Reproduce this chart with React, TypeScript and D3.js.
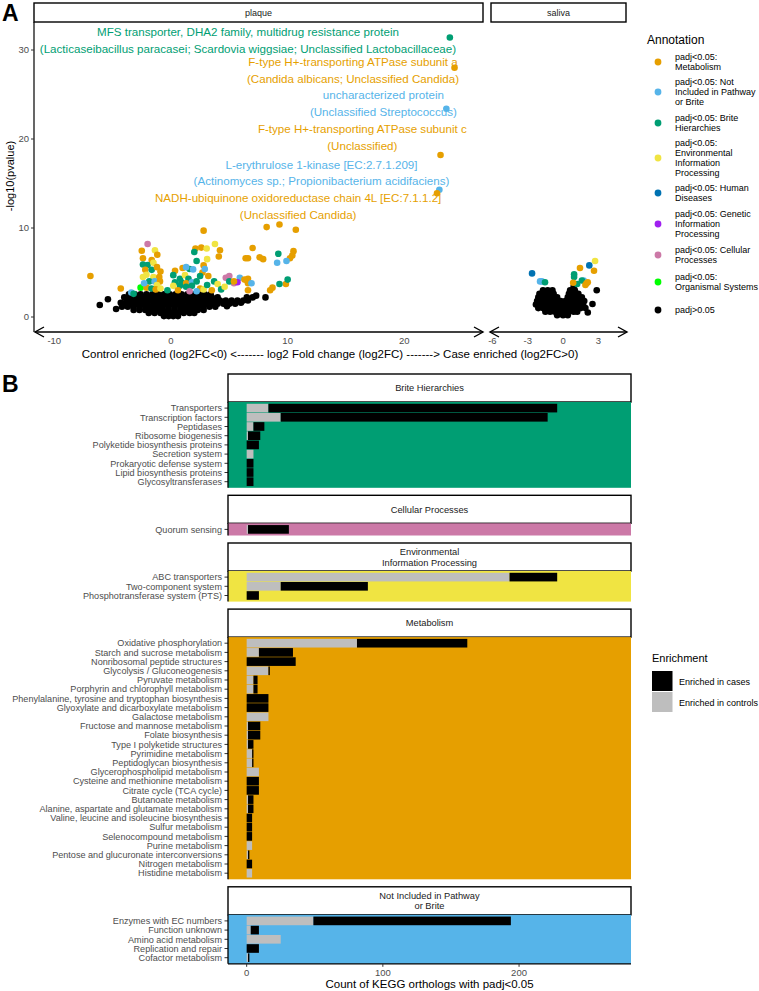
import React from 'react';
import * as d3 from 'd3';

const FONT = '"Liberation Sans", Arial, Helvetica, sans-serif';
const GRAY30 = '#4D4D4D';

// ---------- Panel A data ----------
const annotationKeys = ['M', 'N', 'B', 'E', 'H', 'G', 'C', 'O', 'NS'];
const annotationColors = ['#E69F00', '#56B4E9', '#009E73', '#F0E442', '#0072B2', '#A020F0', '#CC79A7', '#00FF00', '#000000'];
const annotationLabels = [
  ['padj<0.05:', 'Metabolism'],
  ['padj<0.05: Not', 'Included in Pathway', 'or Brite'],
  ['padj<0.05: Brite', 'Hierarchies'],
  ['padj<0.05:', 'Environmental', 'Information', 'Processing'],
  ['padj<0.05: Human', 'Diseases'],
  ['padj<0.05: Genetic', 'Information', 'Processing'],
  ['padj<0.05: Cellular', 'Processes'],
  ['padj<0.05:', 'Organismal Systems'],
  ['padj>0.05'],
];

// non-significant (black) plaque points, by row: [-log10 p, log2FC values]
const plaqueNsRows: [number, number[]][] = [
  [0.1, [-0.6, -0.2, 0.2, 0.6]],
  [0.45, [-1.9, -1.4, -0.9, -0.4, 0.1, 0.6, 1.1, 1.6, 2.0]],
  [0.8, [-3.2, -2.7, -2.2, -1.7, -1.2, -0.7, -0.2, 0.3, 0.8, 1.3, 1.8, 2.3, 2.8]],
  [1.15, [-4.2, -3.7, -3.2, -2.7, -2.2, -1.7, -1.2, -0.7, -0.2, 0.3, 0.8, 1.3, 1.8, 2.3, 2.8, 3.3, 3.8]],
  [1.5, [-4.0, -3.5, -3.0, -2.5, -2.0, -1.5, -1.0, -0.5, 0.0, 0.5, 1.0, 1.5, 2.0, 2.5, 3.0, 3.5, 4.0, 4.5, 5.0, 5.5]],
  [1.85, [-3.8, -3.3, -2.8, -2.3, -1.8, -1.3, -0.8, -0.3, 0.2, 0.7, 1.2, 1.7, 2.2, 2.7, 3.2, 3.7, 4.2, 4.7, 5.2, 5.7, 6.2, 6.6]],
  [2.2, [-4.0, -3.5, -3.0, -2.5, -2.0, -1.5, -1.0, -0.5, 0.0, 0.5, 1.0, 1.5, 2.0, 2.5, 3.0, 3.5, 4.0, 6.5, 7.0]],
  [2.55, [-3.6, -3.1, -2.6, -2.1, -1.6, -1.1, -0.6, -0.1, 0.4, 0.9, 1.4, 1.9, 2.4, 2.9, 3.4]],
];
const plaqueNsExtra: [number, number][] = [
  [-6.1, 1.35], [-5.4, 2.0], [-4.7, 0.9], [-4.3, 1.6], [7.3, 2.4], [8.1, 2.2], [4.8, 1.2], [6.0, 1.6],
];

// significant plaque points: [log2FC, -log10 p, annotation]
const plaqueSig: [number, number, string][] = [
  [23.9, 31.4, 'B'], [24.3, 28.0, 'M'], [23.6, 23.4, 'N'], [23.1, 18.2, 'M'], [23.0, 14.3, 'N'], [22.8, 13.9, 'M'],
  [-6.9, 4.6, 'M'], [-4.3, 3.2, 'M'], [2.8, 9.7, 'M'], [8.2, 10.1, 'M'], [9.3, 10.4, 'M'], [10.7, 9.8, 'M'],
  [7.0, 7.75, 'M'], [6.4, 6.6, 'M'], [6.6, 6.6, 'M'], [7.6, 6.7, 'M'], [7.9, 6.5, 'M'], [10.5, 7.4, 'M'],
  [10.4, 6.9, 'M'], [10.2, 6.6, 'M'], [9.85, 3.7, 'M'], [8.7, 3.3, 'M'], [8.5, 3.0, 'M'], [2.1, 7.7, 'M'],
  [2.6, 7.8, 'M'], [4.2, 7.5, 'M'], [4.1, 6.8, 'M'], [0.35, 5.2, 'M'], [1.0, 5.5, 'M'], [2.8, 5.8, 'M'],
  [2.7, 5.0, 'M'], [6.6, 4.3, 'M'], [6.6, 3.8, 'M'], [6.6, 3.0, 'M'],
  [9.1, 6.1, 'N'], [9.9, 6.3, 'N'], [9.2, 7.1, 'B'], [10.0, 4.2, 'B'], [9.3, 3.7, 'B'],
  [5.9, 4.4, 'N'], [6.9, 3.8, 'N'], [4.7, 4.4, 'C'], [5.0, 4.6, 'C'], [5.4, 3.8, 'C'], [5.7, 3.9, 'G'],
  [-2.0, 8.2, 'C'], [-2.6, 3.3, 'O'], [3.77, 8.2, 'E'], [3.06, 7.7, 'E'], [3.1, 6.5, 'E'],
  [2.0, 7.3, 'B'], [2.2, 6.3, 'B'],
  [-2.5, 7.45, 'M'], [-2.4, 6.6, 'M'], [-1.37, 7.5, 'E'], [-1.17, 7.0, 'M'], [-1.65, 6.4, 'M'],
  [-2.0, 5.85, 'B'], [-1.5, 6.1, 'E'], [-2.4, 5.9, 'B'], [-2.2, 5.3, 'M'], [-1.65, 5.3, 'B'], [-1.2, 5.6, 'M'],
  [-0.9, 5.1, 'M'], [-2.1, 4.75, 'E'], [-2.4, 4.5, 'E'], [-1.5, 4.5, 'E'], [-1.0, 4.5, 'M'],
  [-1.86, 4.0, 'B'], [-1.4, 4.0, 'N'], [-0.94, 4.0, 'M'], [-1.2, 3.6, 'E'], [-2.09, 3.3, 'M'],
  [-1.67, 3.2, 'B'], [-1.3, 3.1, 'M'], [-0.9, 3.2, 'E'], [-3.4, 2.75, 'N'], [-3.2, 2.6, 'B'], [-2.3, 3.8, 'N'],
  [1.6, 5.4, 'B'], [1.3, 5.6, 'N'], [1.9, 5.35, 'N'], [2.9, 5.4, 'N'], [0.2, 4.7, 'B'], [0.77, 4.3, 'B'],
  [1.2, 4.7, 'E'], [1.5, 4.3, 'B'], [0.34, 3.9, 'B'], [0.9, 3.9, 'B'], [1.3, 3.8, 'M'], [1.8, 3.9, 'N'],
  [2.2, 4.0, 'B'], [2.5, 4.6, 'B'], [3.2, 4.6, 'M'], [0.77, 3.5, 'B'], [0.2, 3.5, 'E'], [1.3, 3.4, 'B'],
  [1.8, 3.5, 'B'], [2.5, 3.2, 'M'], [2.8, 3.1, 'E'], [1.6, 2.9, 'C'], [3.1, 3.6, 'B'], [3.7, 4.0, 'B'],
  [4.0, 3.7, 'E'], [4.3, 3.1, 'B'], [4.6, 3.4, 'E'], [5.0, 4.0, 'B'], [5.4, 4.0, 'M'], [6.3, 4.2, 'M'],
  [0.6, 3.0, 'M'], [-0.3, 3.0, 'B'], [2.2, 2.9, 'N'], [3.5, 3.0, 'M'],
];

const plaqueLabelText: [string, string][] = [
  ['MFS transporter, DHA2 family, multidrug resistance protein', '(Lacticaseibacillus paracasei; Scardovia wiggsiae; Unclassified Lactobacillaceae)'],
  ['F-type H+-transporting ATPase subunit a', '(Candida albicans; Unclassified Candida)'],
  ['uncharacterized protein', '(Unclassified Streptococcus)'],
  ['F-type H+-transporting ATPase subunit c', '(Unclassified)'],
  ['L-erythrulose 1-kinase [EC:2.7.1.209]', '(Actinomyces sp.; Propionibacterium acidifaciens)'],
  ['NADH-ubiquinone oxidoreductase chain 4L [EC:7.1.1.2]', '(Unclassified Candida)'],
];
const plaqueLabelCats = ['B', 'M', 'N', 'M', 'N', 'M'];
// label centres (repelled positions) in data units
const plaqueLabelX = [6.6, 15.6, 18.2, 16.4, 12.9, 10.9];
const plaqueLabelY = [31.1, 27.7, 24.0, 20.2, 16.2, 12.4];

const salivaNsRows: [number, number[]][] = [
  [0.2, [-0.5, 0.0, 0.4]],
  [0.6, [-1.5, -1.1, -0.7, -0.3, 0.1, 0.5, 0.9, 1.2]],
  [1.0, [-2.1, -1.7, -1.3, -0.9, -0.5, -0.1, 0.3, 0.7, 1.1, 1.5, 1.9]],
  [1.4, [-2.3, -1.9, -1.5, -1.1, -0.7, -0.3, 0.1, 0.5, 0.9, 1.3, 1.7]],
  [1.8, [-2.2, -1.8, -1.4, -1.0, -0.6, -0.2, 0.2, 0.6, 1.0, 1.4, 1.8]],
  [2.2, [-2.1, -1.7, -1.3, -0.9, -0.5, 0.4, 0.8, 1.2, 1.6]],
  [2.6, [-2.0, -1.6, -1.2, -0.8, 0.5, 0.9, 1.3]],
  [3.0, [-1.7, -1.3, -0.9, 0.6, 1.0]],
  [3.4, [0.9]],
];
const salivaNsExtra: [number, number][] = [[2.86, 3.0], [2.5, 1.46], [2.1, 0.5]];
const salivaSig: [number, number, string][] = [
  [-2.63, 4.9, 'H'], [-1.95, 4.0, 'N'], [-1.8, 4.0, 'N'], [-1.53, 3.9, 'B'], [1.44, 5.5, 'M'],
  [2.23, 5.8, 'H'], [2.72, 6.3, 'E'], [2.63, 5.2, 'M'], [0.94, 4.8, 'B'], [0.94, 4.5, 'B'],
  [1.75, 4.1, 'N'], [1.6, 4.1, 'B'], [1.2, 3.7, 'B'], [0.86, 3.85, 'M'], [2.1, 3.9, 'M'], [1.9, 3.6, 'M'], [2.0, 3.8, 'M'],
];

const plaqueXTicks = [-10, 0, 10, 20];
const salivaXTicks = [-6, -3, 0, 3];
const yATicks = [0, 10, 20, 30];

// ---------- Panel B data ----------
const briteCats = ['Transporters', 'Transcription factors', 'Peptidases', 'Ribosome biogenesis', 'Polyketide biosynthesis proteins', 'Secretion system', 'Prokaryotic defense system', 'Lipid biosynthesis proteins', 'Glycosyltransferases'];
const briteControls = [16, 25, 5, 1, 0, 5, 0, 0, 0];
const briteCases = [212, 196, 8, 9, 9, 0, 5, 5, 5];

const cellularCats = ['Quorum sensing'];
const cellularControls = [1];
const cellularCases = [30];

const envCats = ['ABC transporters', 'Two-component system', 'Phosphotransferase system (PTS)'];
const envControls = [193, 25, 0];
const envCases = [35, 64, 9];

const metabCats = ['Oxidative phosphorylation', 'Starch and sucrose metabolism', 'Nonribosomal peptide structures', 'Glycolysis / Gluconeogenesis', 'Pyruvate metabolism', 'Porphyrin and chlorophyll metabolism', 'Phenylalanine, tyrosine and tryptophan biosynthesis', 'Glyoxylate and dicarboxylate metabolism', 'Galactose metabolism', 'Fructose and mannose metabolism', 'Folate biosynthesis', 'Type I polyketide structures', 'Pyrimidine metabolism', 'Peptidoglycan biosynthesis', 'Glycerophospholipid metabolism', 'Cysteine and methionine metabolism', 'Citrate cycle (TCA cycle)', 'Butanoate metabolism', 'Alanine, aspartate and glutamate metabolism', 'Valine, leucine and isoleucine biosynthesis', 'Sulfur metabolism', 'Selenocompound metabolism', 'Purine metabolism', 'Pentose and glucuronate interconversions', 'Nitrogen metabolism', 'Histidine metabolism'];
const metabControls = [81, 9, 0, 16, 5, 5, 0, 0, 16, 1, 1, 1, 4, 4, 9, 0, 0, 1, 1, 0, 0, 0, 4, 1, 0, 4];
const metabCases = [81, 25, 36, 1, 3, 3, 16, 16, 0, 9, 9, 4, 1, 1, 0, 9, 9, 4, 4, 4, 4, 4, 0, 1, 4, 0];

const notInclCats = ['Enzymes with EC numbers', 'Function unknown', 'Amino acid metabolism', 'Replication and repair', 'Cofactor metabolism'];
const notInclControls = [49, 3, 25, 0, 1];
const notInclCases = [145, 6, 0, 9, 1];

const countTicks = [0, 100, 200];

const facetNames = [['Brite Hierarchies'], ['Cellular Processes'], ['Environmental', 'Information Processing'], ['Metabolism'], ['Not Included in Pathway', 'or Brite']];
const facetColors = ['#009E73', '#CC79A7', '#F0E442', '#E69F00', '#56B4E9'];
const facetCats = [briteCats, cellularCats, envCats, metabCats, notInclCats];
const facetControls = [briteControls, cellularControls, envControls, metabControls, notInclControls];
const facetCases = [briteCases, cellularCases, envCases, metabCases, notInclCases];

const enrichmentLabels = ['Enriched in cases', 'Enriched in controls'];
const enrichmentColors = ['#000000', '#BEBEBE'];

const colorOf = (k: string) => annotationColors[annotationKeys.indexOf(k)];

function Arrow({ x1, x2, y }: { x1: number; x2: number; y: number }) {
  const L = 9, H = 5;
  return (
    <g stroke="#000" strokeWidth={1.4} fill="none">
      <line x1={x1} x2={x2} y1={y} y2={y} />
      <path d={`M${x1 + L},${y - H} L${x1},${y} L${x1 + L},${y + H}`} />
      <path d={`M${x2 - L},${y - H} L${x2},${y} L${x2 - L},${y + H}`} />
    </g>
  );
}

function PanelA() {
  const xP = d3.scaleLinear().domain([-11.65, 26.74]).range([35, 483]);
  const xS = d3.scaleLinear().domain([-6.2, 5.43]).range([490, 627]);
  const y = d3.scaleLinear().domain([0, 30]).range([317, 50]);
  const r = 3.3;
  const axisY = 332;
  const plaqueNs: [number, number][] = [];
  plaqueNsRows.forEach(([yy, xs]) => xs.forEach((xx) => plaqueNs.push([xx, yy])));
  plaqueNsExtra.forEach((p) => plaqueNs.push(p));
  const salivaNs: [number, number][] = [];
  salivaNsRows.forEach(([yy, xs]) => xs.forEach((xx) => salivaNs.push([xx, yy])));
  salivaNsExtra.forEach((p) => salivaNs.push(p));

  return (
    <g fontFamily={FONT}>
      <text x={2} y={21} fontSize={23} fontWeight="bold">A</text>
      {/* strips */}
      <rect x={34} y={3} width={449} height={19} fill="#fff" stroke="#000" strokeWidth={1.4} />
      <text x={258.5} y={16} fontSize={9} textAnchor="middle" fill="#1A1A1A">plaque</text>
      <rect x={491} y={3} width={135} height={19} fill="#fff" stroke="#000" strokeWidth={1.4} />
      <text x={558.5} y={16} fontSize={9} textAnchor="middle" fill="#1A1A1A">saliva</text>
      {/* y axis */}
      <line x1={34} x2={34} y1={22} y2={axisY} stroke="#000" strokeWidth={1.2} />
      {yATicks.map((t) => (
        <g key={t}>
          <line x1={31} x2={34} y1={y(t)} y2={y(t)} stroke="#333" />
          <text x={29} y={y(t) + 3.3} fontSize={9.5} textAnchor="end" fill={GRAY30}>{t}</text>
        </g>
      ))}
      <text transform={`translate(13.5,176) rotate(-90)`} fontSize={11} textAnchor="middle">-log10(pvalue)</text>
      {/* points plaque */}
      {plaqueNs.map(([a, b], i) => <circle key={'pn' + i} cx={xP(a)} cy={y(b)} r={r} fill="#000" />)}
      {plaqueSig.map(([a, b, k], i) => <circle key={'ps' + i} cx={xP(a)} cy={y(b)} r={r} fill={colorOf(k)} />)}
      {salivaNs.map(([a, b], i) => <circle key={'sn' + i} cx={xS(a)} cy={y(b)} r={r} fill="#000" />)}
      {salivaSig.map(([a, b, k], i) => <circle key={'ss' + i} cx={xS(a)} cy={y(b)} r={r} fill={colorOf(k)} />)}
      {/* labels */}
      {plaqueLabelText.map((lines, i) => (
        <g key={'lab' + i} fontSize={11.6} textAnchor="middle" fill={colorOf(plaqueLabelCats[i])}>
          <text x={xP(plaqueLabelX[i])} y={y(plaqueLabelY[i]) - 8.3 + 4}>{lines[0]}</text>
          <text x={xP(plaqueLabelX[i])} y={y(plaqueLabelY[i]) + 8.3 + 4}>{lines[1]}</text>
        </g>
      ))}
      {/* x axes */}
      <Arrow x1={35} x2={483} y={axisY} />
      <Arrow x1={490} x2={627} y={axisY} />
      {plaqueXTicks.map((t) => (
        <text key={'px' + t} x={xP(t)} y={344} fontSize={9.5} textAnchor="middle" fill={GRAY30}>{t}</text>
      ))}
      {salivaXTicks.map((t) => (
        <text key={'sx' + t} x={xS(t)} y={344} fontSize={9.5} textAnchor="middle" fill={GRAY30}>{t}</text>
      ))}
      <text x={330} y={358} fontSize={11.5} textAnchor="middle">Control enriched (log2FC&lt;0) &lt;------- log2 Fold change (log2FC) -------&gt; Case enriched (log2FC&gt;0)</text>
      {/* legend */}
      <text x={647} y={44} fontSize={12}>Annotation</text>
      {(() => {
        const dotY = [62, 92, 123, 158, 193, 224, 255, 282, 310];
        return annotationLabels.map((lines, i) => {
          const n = lines.length;
          return (
            <g key={'leg' + i}>
              <circle cx={658} cy={dotY[i]} r={3.4} fill={annotationColors[i]} />
              {lines.map((ln, j) => (
                <text key={j} x={675} y={dotY[i] + (j - (n - 1) / 2) * 10 + 3.2} fontSize={9} fill="#000">{ln}</text>
              ))}
            </g>
          );
        });
      })()}
    </g>
  );
}

function PanelB() {
  const x = d3.scaleLinear().domain([-13.7, 282.2]).range([228, 631]);
  const step = 9.2;
  const stripH = 28;
  const gap = 7.5;
  let cur = 374;
  const layouts = facetCats.map((cats) => {
    const stripTop = cur;
    const panelTop = cur + stripH;
    const panelH = cats.length * step + 3;
    cur = panelTop + panelH + gap;
    return { stripTop, panelTop, panelH };
  });
  const last = layouts[layouts.length - 1];
  const bottom = last.panelTop + last.panelH;
  return (
    <g fontFamily={FONT}>
      <text x={2} y={392} fontSize={23} fontWeight="bold">B</text>
      {facetCats.map((cats, i) => {
        const L = layouts[i];
        const yb = d3.scaleBand().domain(cats).range([L.panelTop + 1.5, L.panelTop + L.panelH - 1.5]).paddingInner(0.06).paddingOuter(0.03);
        const lines = facetNames[i];
        return (
          <g key={'f' + i}>
            <rect x={228} y={L.stripTop} width={403} height={stripH} fill="#fff" stroke="#000" strokeWidth={1.4} />
            {lines.map((ln, j) => (
              <text key={j} x={429.5} y={L.stripTop + stripH / 2 + (j - (lines.length - 1) / 2) * 10.5 + 3.3} fontSize={9.3} textAnchor="middle" fill="#1A1A1A">{ln}</text>
            ))}
            <rect x={228} y={L.panelTop} width={403} height={L.panelH} fill={facetColors[i]} />
            {cats.map((c, j) => {
              const ctrl = facetControls[i][j];
              const cs = facetCases[i][j];
              const yy = yb(c)!;
              const h = yb.bandwidth();
              return (
                <g key={c}>
                  {ctrl > 0 && <rect x={x(0)} y={yy} width={x(ctrl) - x(0)} height={h} fill="#BEBEBE" />}
                  {cs > 0 && <rect x={x(ctrl)} y={yy} width={x(ctrl + cs) - x(ctrl)} height={h} fill="#000" />}
                  <line x1={224.5} x2={228} y1={yy + h / 2} y2={yy + h / 2} stroke="#333" />
                  <text x={222} y={yy + h / 2 + 3.2} fontSize={9.1} textAnchor="end" fill={GRAY30}>{c}</text>
                </g>
              );
            })}
            <line x1={228} x2={228} y1={L.panelTop} y2={L.panelTop + L.panelH} stroke="#000" strokeWidth={1.3} />
          </g>
        );
      })}
      <line x1={228} x2={631} y1={bottom} y2={bottom} stroke="#000" strokeWidth={1.3} />
      {countTicks.map((t) => (
        <g key={'ct' + t}>
          <line x1={x(t)} x2={x(t)} y1={bottom} y2={bottom + 3} stroke="#333" />
          <text x={x(t)} y={bottom + 12} fontSize={9.5} textAnchor="middle" fill={GRAY30}>{t}</text>
        </g>
      ))}
      <text x={429.5} y={988} fontSize={11.5} textAnchor="middle">Count of KEGG orthologs with padj&lt;0.05</text>
      {/* legend */}
      <text x={652} y={662} fontSize={11}>Enrichment</text>
      {enrichmentLabels.map((lb, i) => (
        <g key={lb}>
          <rect x={652} y={671 + i * 21} width={20.5} height={20} fill={enrichmentColors[i]} />
          <text x={679} y={684.5 + i * 21} fontSize={9} fill="#000">{lb}</text>
        </g>
      ))}
    </g>
  );
}

export default function App() {
  return (
    <svg width={759} height={991} style={{ position: 'absolute', left: 0, top: 0, background: '#fff' }}>
      <rect x={0} y={0} width={759} height={991} fill="#fff" />
      <PanelA />
      <PanelB />
    </svg>
  );
}
